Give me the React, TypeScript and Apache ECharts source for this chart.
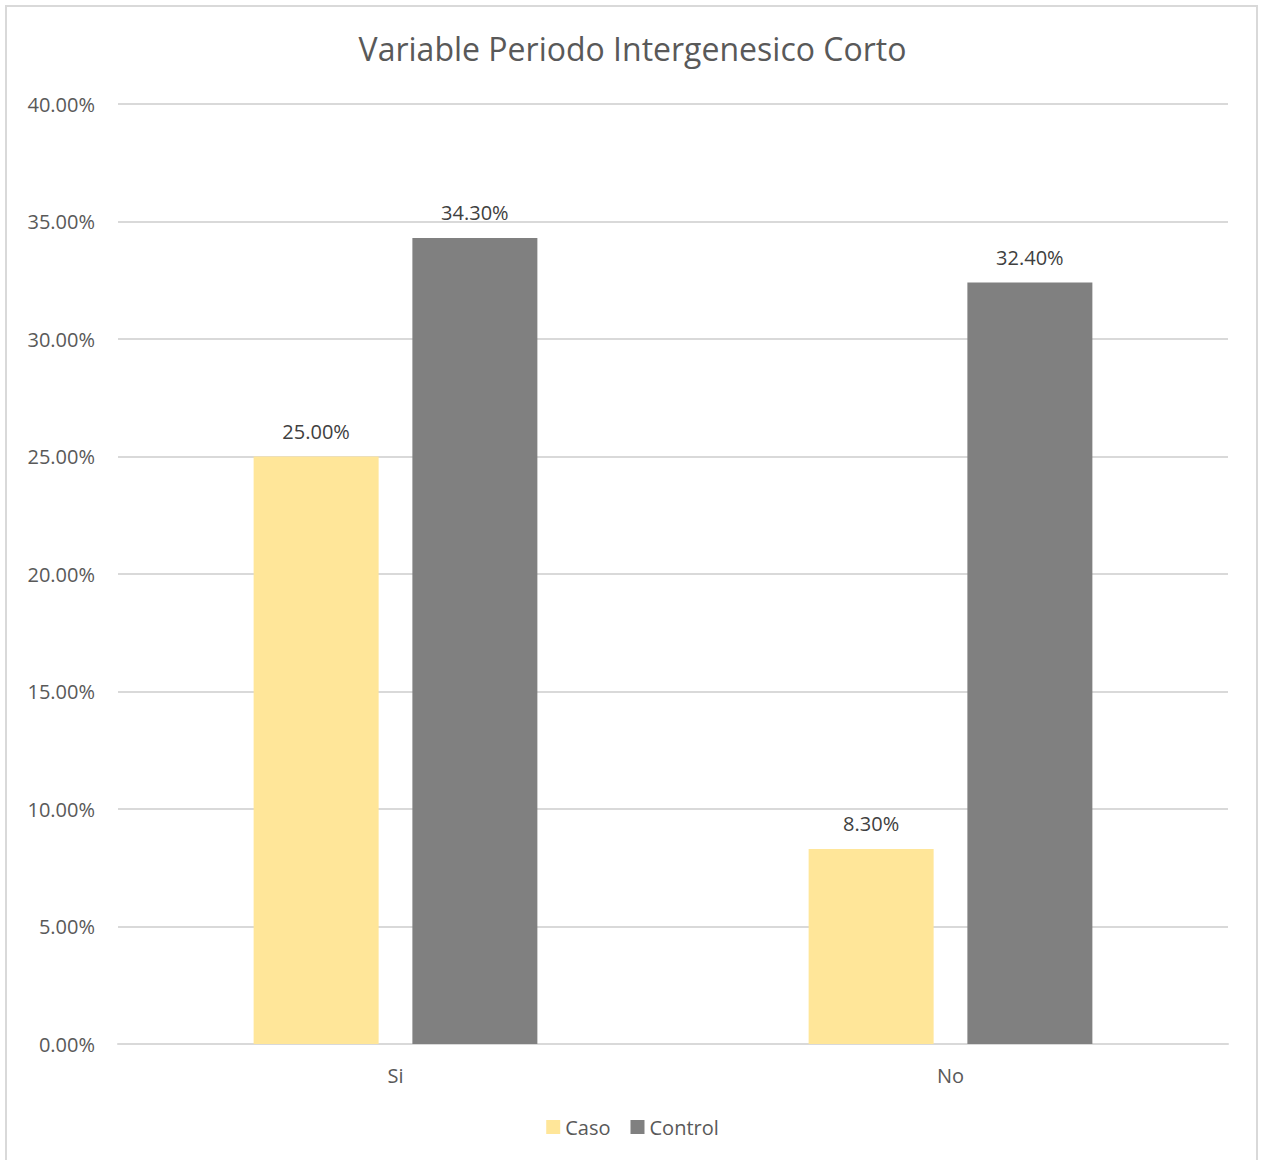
import React, { useEffect, useRef } from "react";
import * as echarts from "echarts";

const categories = ["Si", "No"];
const casoValues = [25.0, 8.3];
const controlValues = [34.3, 32.4];
const seriesNames = ["Caso", "Control"];
const titleText = "Variable Periodo Intergenesico Corto";

const FONT = "'Open Sans', sans-serif";

export default function App() {
  const ref = useRef<HTMLDivElement>(null);
  useEffect(() => {
    if (!ref.current) return;
    const chart = echarts.init(ref.current, null, { renderer: "svg" });
    const label = {
      show: true,
      position: "top",
      distance: 15,
      color: "#404040",
      fontFamily: FONT,
      fontSize: 20,
      formatter: (p: any) => p.value.toFixed(2) + "%",
    };
    chart.setOption({
      animation: false,
      backgroundColor: "#ffffff",
      title: {
        text: titleText,
        left: "center",
        top: 27,
        textStyle: { color: "#595959", fontFamily: FONT, fontSize: 32, fontWeight: "normal" },
      },
      legend: {
        data: seriesNames,
        bottom: 18,
        left: "center",
        itemWidth: 14,
        itemHeight: 14,
        itemGap: 20,
        icon: "rect",
        textStyle: { color: "#595959", fontFamily: FONT, fontSize: 20 },
      },
      grid: { left: 118, right: 37, top: 104, bottom: 116 },
      xAxis: {
        type: "category",
        data: categories,
        axisTick: { show: false },
        axisLine: { lineStyle: { color: "#d9d9d9", width: 2 } },
        axisLabel: { color: "#595959", fontFamily: FONT, fontSize: 20, margin: 21 },
      },
      yAxis: {
        type: "value",
        min: 0,
        max: 40,
        interval: 5,
        axisLine: { show: false },
        axisTick: { show: false },
        splitLine: { lineStyle: { color: "#d9d9d9", width: 2 } },
        axisLabel: {
          color: "#595959",
          fontFamily: FONT,
          fontSize: 20,
          margin: 23,
          formatter: (v: number) => v.toFixed(2) + "%",
        },
      },
      series: [
        {
          name: seriesNames[0],
          type: "bar",
          data: casoValues,
          barWidth: 125,
          barGap: "27%",
          itemStyle: { color: "#FFE699" },
          label,
        },
        {
          name: seriesNames[1],
          type: "bar",
          data: controlValues,
          barWidth: 125,
          barGap: "27%",
          itemStyle: { color: "#808080" },
          label,
        },
      ],
    });
    return () => chart.dispose();
  }, []);
  return (
    <div
      style={{
        position: "absolute",
        left: 0,
        top: 0,
        width: 1265,
        height: 1160,
        overflow: "hidden",
        background: "#fff",
      }}
    >
      <div ref={ref} style={{ position: "absolute", left: 0, top: 0, width: 1265, height: 1160 }} />
      <div
        style={{
          position: "absolute",
          left: 5,
          top: 5,
          width: 1249,
          height: 1200,
          border: "2px solid #d9d9d9",
          pointerEvents: "none",
        }}
      />
    </div>
  );
}
